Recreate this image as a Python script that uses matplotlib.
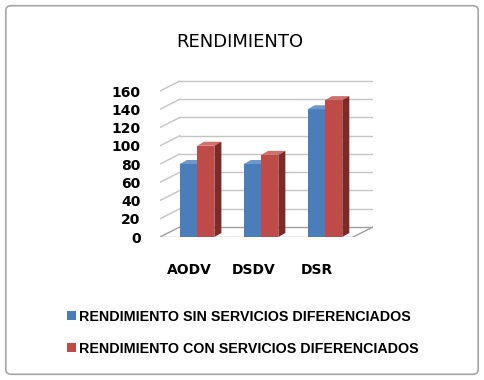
import numpy as np
import matplotlib
matplotlib.use("Agg")
import matplotlib.pyplot as plt
from matplotlib.patches import Polygon, FancyBboxPatch
from matplotlib.transforms import blended_transform_factory

categories = ["AODV", "DSDV", "DSR"]
sin_servicios = [80, 80, 140]
con_servicios = [100, 90, 150]
series_labels = ["RENDIMIENTO SIN SERVICIOS DIFERENCIADOS",
                 "RENDIMIENTO CON SERVICIOS DIFERENCIADOS"]
y_ticks = [0, 20, 40, 60, 80, 100, 120, 140, 160]

# colours: front, top, side
blue = ("#4A7EBB", "#6E97CC", "#2F5584")
red = ("#BE4B48", "#D0706D", "#7E2A28")

fig = plt.figure(figsize=(4.84, 3.80), dpi=100)
fig.patches.append(FancyBboxPatch((0.012, 0.015), 0.976, 0.97,
                                  boxstyle="round,pad=0,rounding_size=0.012",
                                  transform=fig.transFigure, fill=False,
                                  edgecolor="#A6A6A6", linewidth=1.2))

ax = fig.add_axes([0.3306, 0.3763, 0.440, 0.413])
ax.set_xlim(-0.58, 2.75)
ax.set_ylim(0, 172)
x = np.arange(len(categories))
width = 0.27
dx, dy = 0.31, 11          # depth of the chart walls
bdx, bdy = 0.11, 4.4       # depth of each bar

# walls / grid
x0, x1 = -0.58, 2.75
for v in y_ticks:
    col = "#A0A0A0" if v == 0 else "#C4C4C4"
    ax.plot([x0 + dx, x1], [v + dy, v + dy], color=col, lw=1, zorder=1)
    ax.plot([x0, x0 + dx], [v, v + dy], color=col, lw=1, zorder=1)
ax.plot([x0, x1 - dx], [0, 0], color="#A0A0A0", lw=1, zorder=1)
ax.plot([x1 - dx, x1], [0, dy], color="#A0A0A0", lw=1, zorder=1)


def bar3d(xs, vals, cols, label):
    bars = ax.bar(xs, vals, width, color=cols[0], label=label, zorder=3)
    for xc, v in zip(xs, vals):
        l, r = xc - width / 2, xc + width / 2
        ax.add_patch(Polygon([(l, v), (r, v), (r + bdx, v + bdy), (l + bdx, v + bdy)],
                             closed=True, facecolor=cols[1], edgecolor="none", zorder=3))
        ax.add_patch(Polygon([(r, 0), (r + bdx, bdy), (r + bdx, v + bdy), (r, v)],
                             closed=True, facecolor=cols[2], edgecolor="none", zorder=3))
    return bars


b1 = bar3d(x - width / 2, sin_servicios, blue, series_labels[0])
b2 = bar3d(x + width / 2, con_servicios, red, series_labels[1])

ax.set_yticks(y_ticks)
ax.set_yticklabels([str(v) for v in y_ticks], fontsize=10, fontweight="bold")
ax.tick_params(axis="y", length=0, pad=14)
ax.set_xticks([])
for s in ax.spines.values():
    s.set_visible(False)
ax.patch.set_visible(False)

tr = blended_transform_factory(ax.transData, ax.transAxes)
for i, c in enumerate(categories):
    ax.text(i - 0.12, -0.21, c, transform=tr, ha="center", va="center",
            fontsize=10, fontweight="bold")

fig.text(0.496, 1 - 42 / 380, "RENDIMIENTO", ha="center", va="center", fontsize=13)

fig.legend(handles=[b1, b2], loc="upper left",
           bbox_to_anchor=(67 / 484, 1 - 310 / 380), frameon=False,
           prop={"family": "Liberation Sans", "weight": "bold", "size": 10.3},
           handlelength=0.6, handleheight=0.6, handletextpad=0.25,
           labelspacing=1.25, borderpad=0, borderaxespad=0)

fig.savefig("out.png", dpi=100)
